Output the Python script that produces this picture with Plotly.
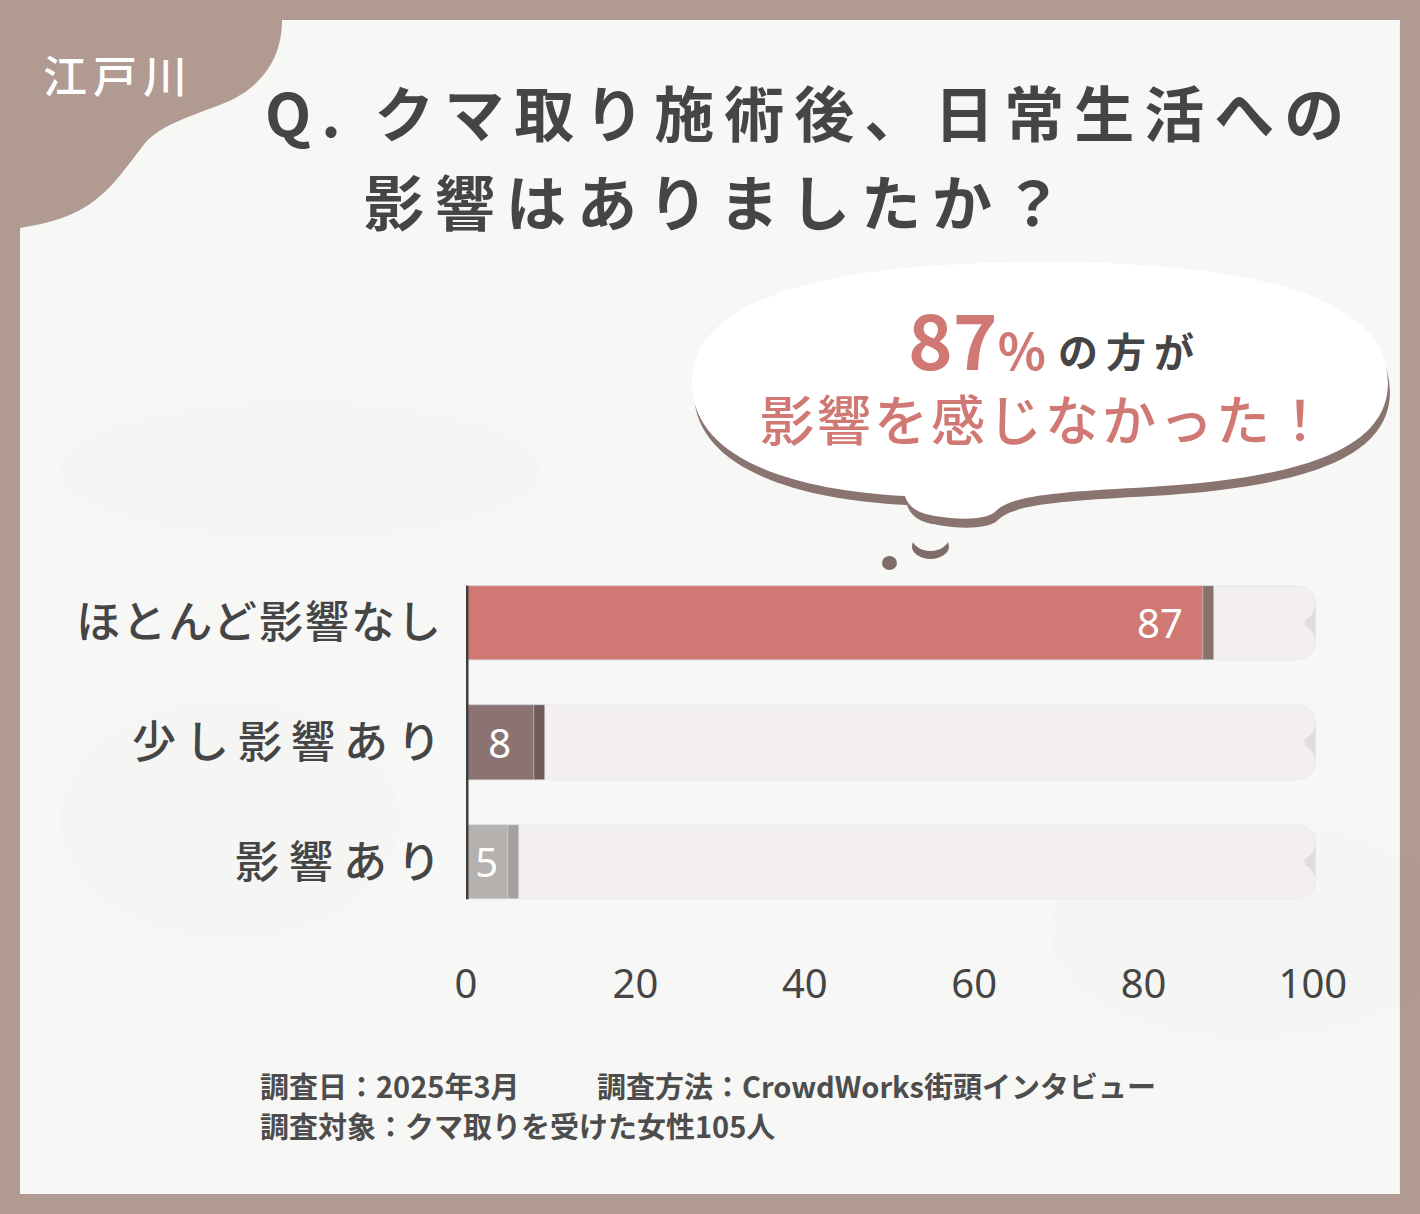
import plotly.graph_objects as go

# ---------------- data ----------------
categories = ["ほとんど影響なし", "少し影響あり", "影響あり"]
values = [87, 8, 5]
track = [100, 100, 100]
bar_colors = ["#d07873", "#8b7371", "#b4b1af"]
shadow_colors = ["#86716b", "#6f5c59", "#a3a09e"]
x_ticks = [0, 20, 40, 60, 80, 100]
label_spacing = [2, 9, 10]

title_line1 = "Q. クマ取り施術後、日常生活への"
title_line2 = "影響はありましたか？"
region_label = "江戸川"
bubble_big = ("<span style='font-size:76px'>87</span>"
              "<span style='font-size:50px'>%</span>")
bubble_small = "の方が"
bubble_line2 = "影響を感じなかった！"
footer_1a = "調査日：2025年3月"
footer_1b = "調査方法：CrowdWorks街頭インタビュー"
footer_2 = "調査対象：クマ取りを受けた女性105人"

# ---------------- geometry helpers (pixel -> paper) ----------------
FW, FH = 1420, 1214
X_MAX = 100.6
L, T, B = 466, 563, 922
R = L + 847 * X_MAX / 100.0
PW, PH = R - L, B - T


def px(x):
    return (x - L) / PW


def py(y):
    return (B - y) / PH


def path(cmds):
    out = []
    for c in cmds:
        if isinstance(c, str):
            out.append(c)
        else:
            out.append(f"{px(c[0]):.5f},{py(c[1]):.5f}")
    return " ".join(out)


def spaced(text, sp):
    # letter spacing on all characters but the last, so alignment is not skewed
    return f"<span style='letter-spacing:{sp}px'>{text[:-1]}</span>{text[-1]}"


FONT = "Noto Sans CJK JP"
DARK = "#454545"
PINK = "#d07873"

fig = go.Figure()

cr = 18
small_mask = [v if v < 20 else None for v in values]
big_mask = [v if v >= 20 else None for v in values]

fig.add_trace(go.Bar(y=categories, x=[t + 0.35 for t in track], orientation="h",
                     marker=dict(color="#e0dcdb", cornerradius=cr), width=0.62,
                     hoverinfo="skip", showlegend=False))
fig.add_trace(go.Bar(y=categories, x=[t - 0.9 for t in track], orientation="h",
                     marker=dict(color="#f2efee", cornerradius=cr), width=0.62,
                     hoverinfo="skip", showlegend=False))
fig.add_trace(go.Bar(y=categories, x=[v + 1.3 for v in values], orientation="h",
                     marker=dict(color=shadow_colors, cornerradius=cr), width=0.62,
                     hoverinfo="skip", showlegend=False))
fig.add_trace(go.Bar(y=categories, x=values, orientation="h",
                     marker=dict(color=bar_colors, cornerradius=cr), width=0.62,
                     text=[str(v) if v is not None else "" for v in small_mask],
                     textposition="inside", insidetextanchor="middle",
                     constraintext="none",
                     textfont=dict(color="white", size=40, family="Noto Sans"),
                     showlegend=False))

shapes = []
# inner panel
shapes.append(dict(type="rect", xref="paper", yref="paper", layer="below",
                   x0=px(20), x1=px(1400), y0=py(20), y1=py(1194),
                   fillcolor="#f7f7f6", line=dict(width=0)))
# faint background shadows
for (cx, cy, rx, ry, op) in [(300, 470, 240, 70, 0.015), (230, 820, 170, 120, 0.015),
                             (1250, 930, 200, 110, 0.015)]:
    shapes.append(dict(type="circle", xref="paper", yref="paper", layer="below",
                       x0=px(cx - rx), x1=px(cx + rx), y0=py(cy - ry), y1=py(cy + ry),
                       fillcolor=f"rgba(120,110,105,{op})", line=dict(width=0)))
# corner blob
shapes.append(dict(type="path", xref="paper", yref="paper", layer="below",
                   path=path(["M", (20, 20), "L", (282, 20),
                              "C", (282, 62), (258, 90), (222, 104),
                              "C", (188, 117), (160, 126), (145, 143),
                              "C", (120, 175), (104, 203), (62, 218),
                              "C", (45, 224), (30, 226), (20, 228), "Z"]),
                   fillcolor="#b09a92", line=dict(width=0)))

bubble = ["M", (692, 385),
          "C", (690, 300), (820, 262), (1040, 262),
          "C", (1280, 262), (1390, 305), (1388, 385),
          "C", (1386, 450), (1300, 478), (1150, 487),
          "C", (1060, 492), (1010, 495), (995, 512),
          "C", (985, 520), (960, 520), (935, 516),
          "C", (915, 513), (908, 505), (905, 496),
          "C", (790, 490), (694, 458), (692, 385), "Z"]
bubble_shadow = []
for c in bubble:
    bubble_shadow.append(c if isinstance(c, str) else (c[0] + 2, c[1] + 9))
shapes.append(dict(type="path", xref="paper", yref="paper", layer="below",
                   path=path(bubble_shadow), fillcolor="#8a7470", line=dict(width=0)))
shapes.append(dict(type="path", xref="paper", yref="paper", layer="below",
                   path=path(bubble), fillcolor="#ffffff", line=dict(width=0)))
# thought dots
shapes.append(dict(type="circle", xref="paper", yref="paper", layer="below",
                   x0=px(912), x1=px(949), y0=py(534), y1=py(559),
                   fillcolor="#7f6b67", line=dict(width=0)))
shapes.append(dict(type="circle", xref="paper", yref="paper", layer="below",
                   x0=px(912), x1=px(949), y0=py(524), y1=py(551),
                   fillcolor="#f7f7f6", line=dict(width=0)))
shapes.append(dict(type="circle", xref="paper", yref="paper", layer="below",
                   x0=px(882), x1=px(897), y0=py(556), y1=py(570),
                   fillcolor="#7f6b67", line=dict(width=0)))
# axis line at zero
shapes.append(dict(type="line", xref="x", yref="y", layer="above",
                   x0=0, x1=0, y0=-0.31, y1=2.31,
                   line=dict(color="#3f3f3f", width=5)))

annotations = [
    dict(text=spaced(region_label, 6), x=px(115), y=py(74), xanchor="center", yanchor="middle",
         font=dict(family=FONT, size=44, color="white", weight=500)),
    dict(text=spaced(title_line1, 10), x=px(263), y=py(111), xanchor="left", yanchor="middle",
         font=dict(family=FONT, size=60, color=DARK, weight=700)),
    dict(text=spaced(title_line2, 11), x=px(362), y=py(199), xanchor="left", yanchor="middle",
         font=dict(family=FONT, size=60, color=DARK, weight=700)),
    dict(text=bubble_big, x=px(1048), y=py(337), xanchor="right", yanchor="middle",
         height=84,
         font=dict(family=FONT, size=76, color=PINK, weight=700)),
    dict(text=spaced(bubble_small, 8), x=px(1056), y=py(350), xanchor="left", yanchor="middle",
         font=dict(family=FONT, size=40, color=DARK, weight=700)),
    dict(text=spaced(bubble_line2, 3), x=px(1044), y=py(417), xanchor="center", yanchor="middle",
         height=64,
         font=dict(family=FONT, size=54, color=PINK, weight=500)),
    dict(text=footer_1a, x=px(258), y=py(1085), xanchor="left", yanchor="middle",
         font=dict(family=FONT, size=29, color="#4d4d4d", weight=700)),
    dict(text=footer_1b, x=px(595), y=py(1085), xanchor="left", yanchor="middle",
         font=dict(family=FONT, size=29, color="#4d4d4d", weight=700)),
    dict(text=footer_2, x=px(258), y=py(1125), xanchor="left", yanchor="middle",
         font=dict(family=FONT, size=29, color="#4d4d4d", weight=700)),
]
for a in annotations:
    a.update(xref="paper", yref="paper", showarrow=False)

# value label for the long bar, placed from the data
for cat, v in zip(categories, big_mask):
    if v is not None:
        annotations.append(dict(text=str(v), x=v, y=cat, xref="x", yref="y",
                                xanchor="right", yanchor="middle", xshift=-18,
                                showarrow=False,
                                font=dict(family="Noto Sans", size=40, color="white")))

fig.update_layout(
    width=FW, height=FH,
    margin=dict(l=L, r=FW - R, t=T, b=FH - B, pad=0),
    paper_bgcolor="#b09a92", plot_bgcolor="rgba(0,0,0,0)",
    barmode="overlay", bargap=0, barcornerradius=cr,
    shapes=shapes, annotations=annotations,
    showlegend=False,
    xaxis=dict(range=[0, X_MAX], tickvals=x_ticks, showgrid=False, zeroline=False,
               showline=False, ticks="", ticklabelstandoff=35,
               tickfont=dict(family="Noto Sans", size=40, color=DARK)),
    yaxis=dict(categoryorder="array", categoryarray=categories, range=[2.5, -0.5],
               tickvals=categories,
               ticktext=[spaced(c, s) for c, s in zip(categories, label_spacing)],
               showgrid=False, zeroline=False, showline=False, ticks="",
               ticklabelstandoff=24,
               tickfont=dict(family=FONT, size=44, color=DARK, weight=500)),
)

fig.write_html("out.html", config={"displayModeBar": False},
               post_script="document.body.style.margin='0';")
